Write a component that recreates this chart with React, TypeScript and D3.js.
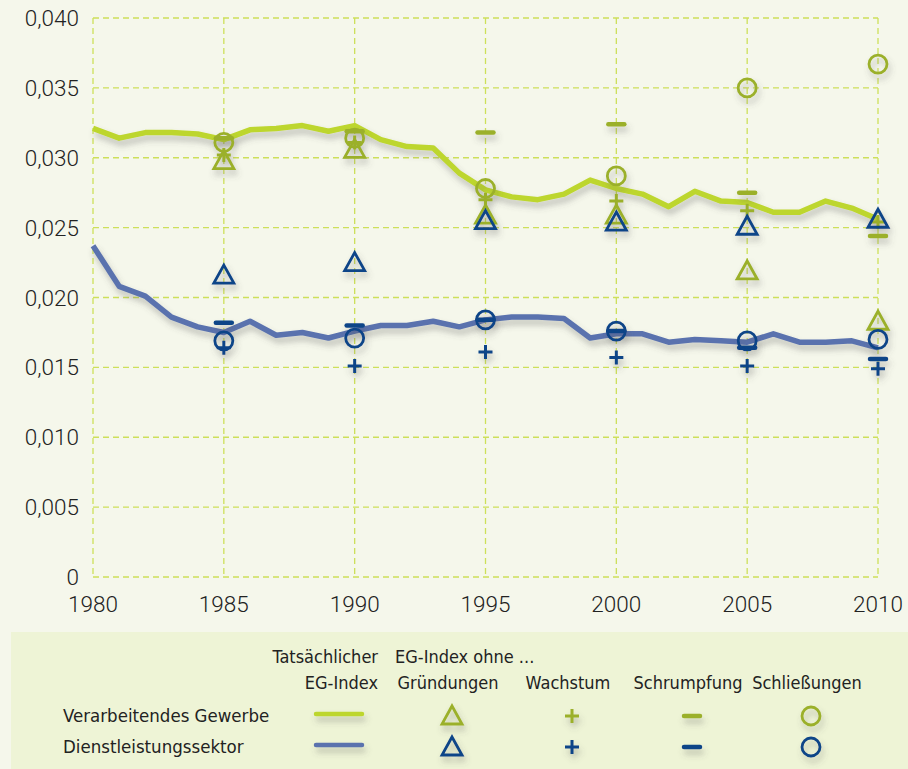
import * as d3 from 'd3';

const WIDTH = 908;
const HEIGHT = 769;
const MARGIN = { top: 18, right: 30, bottom: 191, left: 93 };

const years = d3.range(1980, 2011);

// Tatsächlicher EG-Index
const gewerbe = [
  0.0321, 0.0314, 0.0318, 0.0318, 0.0317, 0.0313, 0.032, 0.0321, 0.0323, 0.0319, 0.0323,
  0.0313, 0.0308, 0.0307, 0.0289, 0.0277, 0.0272, 0.027, 0.0274, 0.0284, 0.0278, 0.0274,
  0.0265, 0.0276, 0.0269, 0.0268, 0.0261, 0.0261, 0.0269, 0.0264, 0.0256,
];
const dienst = [
  0.0237, 0.0208, 0.0201, 0.0186, 0.0179, 0.0175, 0.0183, 0.0173, 0.0175, 0.0171, 0.0176,
  0.018, 0.018, 0.0183, 0.0179, 0.0184, 0.0186, 0.0186, 0.0185, 0.0171, 0.0174, 0.0174,
  0.0168, 0.017, 0.0169, 0.0168, 0.0174, 0.0168, 0.0168, 0.0169, 0.0164,
];

// EG-Index ohne ... (1985, 1990, ..., 2010)
const markerYears = [1985, 1990, 1995, 2000, 2005, 2010];
const gewerbeGruendungen = [0.0298, 0.0306, 0.0259, 0.0259, 0.0219, 0.0183];
const gewerbeWachstum = [0.0302, 0.0311, 0.027, 0.0269, 0.0262, 0.0254];
const gewerbeSchrumpfung = [0.0314, 0.0319, 0.0318, 0.0324, 0.0275, 0.0244];
const gewerbeSchliessungen = [0.0311, 0.0314, 0.0278, 0.0287, 0.035, 0.0367];
const dienstGruendungen = [0.0216, 0.0225, 0.0255, 0.0254, 0.0251, 0.0256];
const dienstWachstum = [0.0164, 0.0151, 0.0161, 0.0157, 0.0151, 0.0149];
const dienstSchrumpfung = [0.0182, 0.018, 0.0184, 0.0176, 0.0164, 0.0156];
const dienstSchliessungen = [0.0169, 0.0171, 0.0184, 0.0176, 0.0169, 0.017];

const yTicks = [0, 0.005, 0.01, 0.015, 0.02, 0.025, 0.03, 0.035, 0.04];
const xTicks = [1980, 1985, 1990, 1995, 2000, 2005, 2010];

const legendColumns = ['Gründungen', 'Wachstum', 'Schrumpfung', 'Schließungen'];
const legendRows = ['Verarbeitendes Gewerbe', 'Dienstleistungssektor'];

const GREEN_LINE = '#bdd62e';
const BLUE_LINE = '#5a72ae';
const GREEN_MARK = '#9bb02a';
const BLUE_MARK = '#0b4488';
const GRID = '#cde05a';
const TEXT = '#222';
const FONT = 'Roboto, "Liberation Sans", sans-serif';
const LEGEND_FONT = '"Liberation Sans Narrow", "DejaVu Sans Condensed", sans-serif';

type Kind = 'tri' | 'plus' | 'minus' | 'circle';

function Marker({ kind, x, y, color }: { kind: Kind; x: number; y: number; color: string }) {
  if (kind === 'circle')
    return <circle cx={x} cy={y} r={9} fill="none" stroke={color} strokeWidth={2.8} />;
  if (kind === 'tri') {
    const p = `M${x},${y - 10}L${x + 10},${y + 8}L${x - 10},${y + 8}Z`;
    return <path d={p} fill="none" stroke={color} strokeWidth={2.8} strokeLinejoin="miter" />;
  }
  if (kind === 'plus')
    return (
      <path d={`M${x - 7},${y}H${x + 7}M${x},${y - 7}V${y + 7}`} stroke={color} strokeWidth={3} />
    );
  return (
    <path d={`M${x - 8},${y}H${x + 8}`} stroke={color} strokeWidth={4.5} strokeLinecap="round" />
  );
}

export default function App() {
  const x = d3
    .scaleLinear()
    .domain([1980, 2010])
    .range([MARGIN.left, 878]);
  const y = d3
    .scaleLinear()
    .domain([0, 0.04])
    .range([HEIGHT - MARGIN.bottom - 1, MARGIN.top]);

  const line = d3
    .line<number>()
    .x((_, i) => x(years[i]))
    .y((d) => y(d));

  const fmt = (v: number) => (v === 0 ? '0' : d3.format('.3f')(v).replace('.', ','));

  const markerSets: { kind: Kind; values: number[]; color: string }[] = [
    { kind: 'tri', values: gewerbeGruendungen, color: GREEN_MARK },
    { kind: 'plus', values: gewerbeWachstum, color: GREEN_MARK },
    { kind: 'minus', values: gewerbeSchrumpfung, color: GREEN_MARK },
    { kind: 'circle', values: gewerbeSchliessungen, color: GREEN_MARK },
    { kind: 'tri', values: dienstGruendungen, color: BLUE_MARK },
    { kind: 'plus', values: dienstWachstum, color: BLUE_MARK },
    { kind: 'minus', values: dienstSchrumpfung, color: BLUE_MARK },
    { kind: 'circle', values: dienstSchliessungen, color: BLUE_MARK },
  ];

  const colX = [452, 572, 692, 811];
  const rowY = [716, 747];
  const kinds: Kind[] = ['tri', 'plus', 'minus', 'circle'];

  return (
    <svg
      width={WIDTH}
      height={HEIGHT}
      style={{ position: 'absolute', left: 0, top: 0, display: 'block' }}
    >
      <defs>
        <filter id="shadow" x="-20%" y="-40%" width="140%" height="180%">
          <feDropShadow dx={2} dy={5} stdDeviation={3} floodColor="#555" floodOpacity={0.35} />
        </filter>
      </defs>
      <rect width={WIDTH} height={HEIGHT} fill="#f5f7eb" />

      {/* grid */}
      <g stroke={GRID} strokeWidth={1.3} strokeDasharray="6,4" fill="none">
        {yTicks.map((t) => (
          <line key={t} x1={x(1980)} x2={x(2010)} y1={y(t)} y2={y(t)} />
        ))}
        {xTicks.map((t) => (
          <line key={t} x1={x(t)} x2={x(t)} y1={y(0.04)} y2={y(0)} />
        ))}
      </g>

      {/* axes labels */}
      <g fontFamily={FONT} fontSize={22.5} fontWeight={300} fill={TEXT}>
        {yTicks.map((t) => (
          <text key={t} x={79} y={y(t)} dy="0.36em" textAnchor="end">
            {fmt(t)}
          </text>
        ))}
        {xTicks.map((t) => (
          <text key={t} x={x(t)} y={612} textAnchor="middle">
            {t}
          </text>
        ))}
      </g>

      {/* lines */}
      <g filter="url(#shadow)" fill="none" strokeWidth={5.5} strokeLinejoin="round">
        <path d={line(gewerbe) ?? ''} stroke={GREEN_LINE} />
        <path d={line(dienst) ?? ''} stroke={BLUE_LINE} />
      </g>

      {/* markers */}
      <g filter="url(#shadow)">
        {markerSets.map((s, si) =>
          s.values.map((v, i) => (
            <Marker key={`${si}-${i}`} kind={s.kind} x={x(markerYears[i])} y={y(v)} color={s.color} />
          )),
        )}
      </g>

      {/* legend */}
      <rect x={11} y={632} width={WIDTH - 11} height={HEIGHT - 632} fill="#eef4d6" />
      <g fontFamily={LEGEND_FONT} fontSize={18} fill={TEXT}>
        <text x={378} y={663} textAnchor="end">
          Tatsächlicher
        </text>
        <text x={378} y={689} textAnchor="end">
          EG-Index
        </text>
        <text x={395} y={663}>
          EG-Index ohne ...
        </text>
        {legendColumns.map((c, i) => (
          <text key={c} x={colX[i] - 4} y={689} textAnchor="middle">
            {c}
          </text>
        ))}
        {legendRows.map((r, i) => (
          <text key={r} x={63} y={rowY[i] + 6} fontSize={18.5}>
            {r}
          </text>
        ))}
      </g>
      <g filter="url(#shadow)">
        {[GREEN_LINE, BLUE_LINE].map((c, i) => (
          <line
            key={c}
            x1={316}
            x2={362}
            y1={rowY[i] - 2}
            y2={rowY[i] - 2}
            stroke={c}
            strokeWidth={4.5}
            strokeLinecap="round"
          />
        ))}
        {kinds.map((k, ci) =>
          [GREEN_MARK, BLUE_MARK].map((c, ri) => (
            <Marker key={`${k}-${ri}`} kind={k} x={colX[ci]} y={rowY[ri]} color={c} />
          )),
        )}
      </g>
    </svg>
  );
}
